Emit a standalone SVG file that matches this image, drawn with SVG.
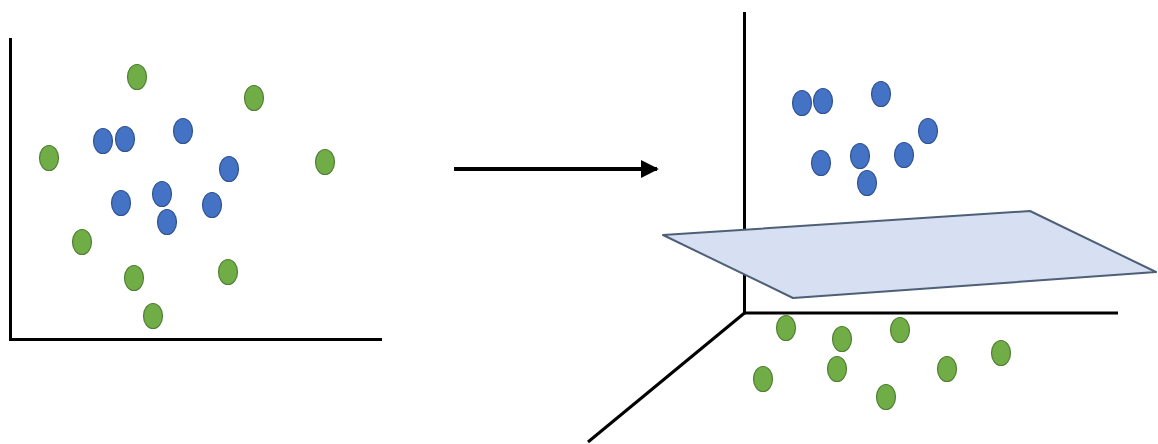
<svg xmlns="http://www.w3.org/2000/svg" width="1158" height="444" viewBox="0 0 1158 444">
<style>
.axis{stroke:#000;stroke-width:3;fill:none}
.g{fill:#70AD47;stroke:#507E32;stroke-width:1.2}
.b{fill:#4472C4;stroke:#2F528F;stroke-width:1.2}
.plane{fill:#D6E0F2;stroke:#4E5F78;stroke-width:2;stroke-linejoin:round}
</style>
<defs>
<marker id="ah" viewBox="0 0 10 10" refX="9" refY="5" markerWidth="4.5" markerHeight="4.5" markerUnits="strokeWidth" orient="auto">
<path d="M0,0 L10,5 L0,10 z" fill="#000"/>
</marker>
</defs>
<rect width="1158" height="444" fill="#fff"/>
<g id="left-plot">
<path class="axis" d="M10.5,38 V339.5 H382"/>
<g id="left-green">
<ellipse class="g" cx="137" cy="77" rx="9.5" ry="12.5"/>
<ellipse class="g" cx="254" cy="98" rx="9.5" ry="12.5"/>
<ellipse class="g" cx="49" cy="158" rx="9.5" ry="12.5"/>
<ellipse class="g" cx="325" cy="162" rx="9.5" ry="12.5"/>
<ellipse class="g" cx="82" cy="242" rx="9.5" ry="12.5"/>
<ellipse class="g" cx="134" cy="278" rx="9.5" ry="12.5"/>
<ellipse class="g" cx="228" cy="272" rx="9.5" ry="12.5"/>
<ellipse class="g" cx="153" cy="316" rx="9.5" ry="12.5"/>
</g>
<g id="left-blue">
<ellipse class="b" cx="103" cy="141" rx="9.5" ry="12.5"/>
<ellipse class="b" cx="125" cy="139" rx="9.5" ry="12.5"/>
<ellipse class="b" cx="183" cy="131" rx="9.5" ry="12.5"/>
<ellipse class="b" cx="229" cy="169" rx="9.5" ry="12.5"/>
<ellipse class="b" cx="121" cy="203" rx="9.5" ry="12.5"/>
<ellipse class="b" cx="162" cy="194" rx="9.5" ry="12.5"/>
<ellipse class="b" cx="212" cy="205" rx="9.5" ry="12.5"/>
<ellipse class="b" cx="167" cy="222" rx="9.5" ry="12.5"/>
</g>
</g>
<g id="connectors">
<line x1="454" y1="169" x2="657" y2="169" stroke="#000" stroke-width="4" marker-end="url(#ah)"/>
</g>
<g id="right-plot">
<path class="axis" d="M744.5,12 V313 H1118"/>
<path class="axis" d="M744.5,313 L588,442" stroke-width="2.5"/>
<polygon id="plane" class="plane" points="663,235 1030,211 1156,272 793,298"/>
<g id="right-blue">
<ellipse class="b" cx="802" cy="103" rx="9.5" ry="12.5"/>
<ellipse class="b" cx="823" cy="101" rx="9.5" ry="12.5"/>
<ellipse class="b" cx="881" cy="94" rx="9.5" ry="12.5"/>
<ellipse class="b" cx="928" cy="131" rx="9.5" ry="12.5"/>
<ellipse class="b" cx="821" cy="163" rx="9.5" ry="12.5"/>
<ellipse class="b" cx="860" cy="156" rx="9.5" ry="12.5"/>
<ellipse class="b" cx="904" cy="155" rx="9.5" ry="12.5"/>
<ellipse class="b" cx="867" cy="183" rx="9.5" ry="12.5"/>
</g>
<g id="right-green">
<ellipse class="g" cx="786" cy="328" rx="9.5" ry="12.5"/>
<ellipse class="g" cx="842" cy="339" rx="9.5" ry="12.5"/>
<ellipse class="g" cx="900" cy="330" rx="9.5" ry="12.5"/>
<ellipse class="g" cx="1001" cy="353" rx="9.5" ry="12.5"/>
<ellipse class="g" cx="763" cy="379" rx="9.5" ry="12.5"/>
<ellipse class="g" cx="837" cy="369" rx="9.5" ry="12.5"/>
<ellipse class="g" cx="947" cy="369" rx="9.5" ry="12.5"/>
<ellipse class="g" cx="886" cy="397" rx="9.5" ry="12.5"/>
</g>
</g>
</svg>
